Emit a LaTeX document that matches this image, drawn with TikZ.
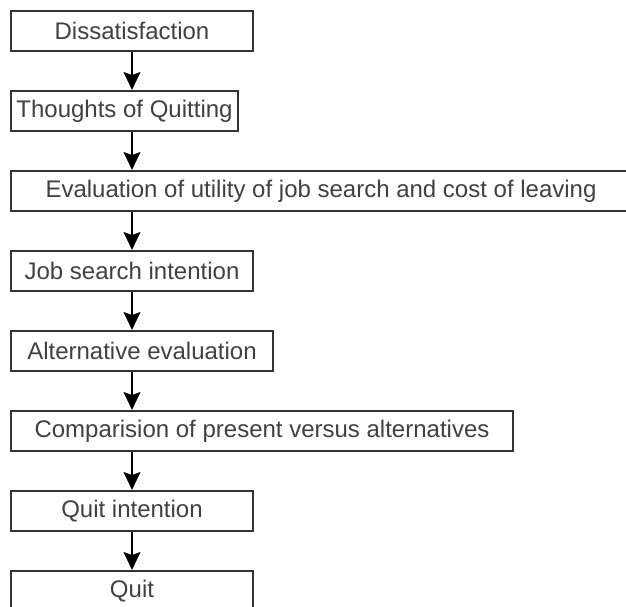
\documentclass[tikz,border=0pt]{standalone}
\usepackage{fontspec}
\setmainfont{Liberation Sans}
\usetikzlibrary{arrows.meta}
\tikzset{
  box/.style={draw=black!80, line width=2pt, anchor=north west, minimum height=40pt,
    inner sep=0pt, text=black!75, font=\fontsize{24}{28}\selectfont},
  flow/.style={draw=black, line width=1.6pt, -{Stealth[length=18pt,width=17pt,inset=3pt]}}
}
\begin{document}
\begin{tikzpicture}[x=1pt,y=-1pt]
  \useasboundingbox (0,0) rectangle (626,606);
  \node[box, minimum width=242pt] (dis) at ( 10, 10) {Dissatisfaction};
  \node[box, minimum width=227pt] (tht) at ( 10, 90) {Thoughts of Quitting};
  \node[box, minimum width=620pt] (eva) at ( 10,170) {Evaluation of utility of job search and cost of leaving};
  \node[box, minimum width=242pt] (job) at ( 10,250) {Job search intention};
  \node[box, minimum width=262pt] (alt) at ( 10,330) {Alternative evaluation};
  \node[box, minimum width=502pt] (cmp) at ( 10,410) {Comparision of present versus alternatives};
  \node[box, minimum width=242pt] (qin) at ( 10,490) {Quit intention};
  \node[box, minimum width=242pt] (qui) at ( 10,570) {Quit};
  \draw[flow] (dis.south) -- (dis.south |- tht.north);
  \draw[flow] (dis.south |- tht.south) -- (dis.south |- eva.north);
  \draw[flow] (dis.south |- eva.south) -- (dis.south |- job.north);
  \draw[flow] (dis.south |- job.south) -- (dis.south |- alt.north);
  \draw[flow] (dis.south |- alt.south) -- (dis.south |- cmp.north);
  \draw[flow] (dis.south |- cmp.south) -- (dis.south |- qin.north);
  \draw[flow] (qin.south) -- (qin.south |- qui.north);
\end{tikzpicture}
\end{document}
